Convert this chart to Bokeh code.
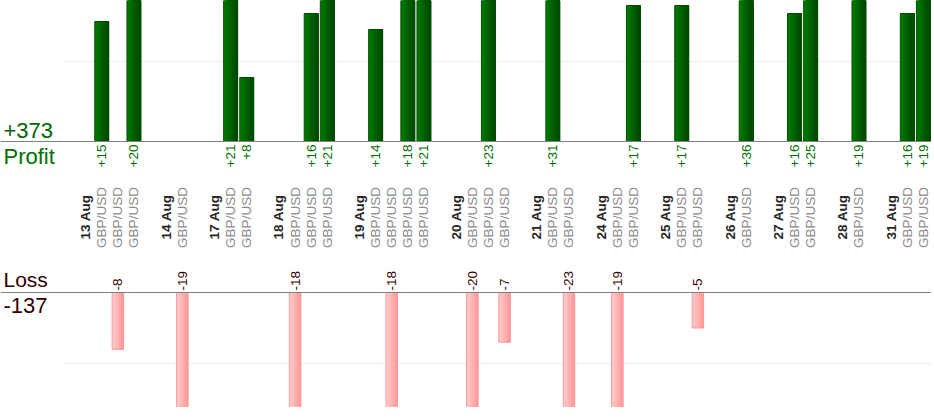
from bokeh.plotting import figure
from bokeh.models import ColumnDataSource, Range1d, Span
from bokeh.transform import dodge
from bokeh.core.properties import value
from bokeh.embed import file_html
from bokeh.resources import INLINE

# ---------------- data ----------------
days = ["13 Aug", "14 Aug", "17 Aug", "18 Aug", "19 Aug", "20 Aug", "21 Aug",
        "24 Aug", "25 Aug", "26 Aug", "27 Aug", "28 Aug", "31 Aug"]
trades_per_day = [3, 1, 2, 3, 4, 3, 2, 2, 2, 1, 2, 1, 2]
pips = [15, -8, 20,
        -19,
        21, 8,
        -18, 16, 21,
        14, -18, 18, 21,
        -20, 23, -7,
        31, -23,
        -19, 17,
        17, -5,
        36,
        16, 25,
        19,
        16, 19]
pair = "GBP/USD"

# ---------------- slot positions ----------------
day_x, trade_x = [], []
pos = 0  # leading empty slot
for n in trades_per_day:
    pos += 1
    day_x.append(pos + 0.5)
    for _ in range(n):
        pos += 1
        trade_x.append(pos + 0.5)
    pos += 1  # spacer slot
n_slots = pos

prof = [(x, v) for x, v in zip(trade_x, pips) if v > 0]
loss = [(x, v) for x, v in zip(trade_x, pips) if v < 0]
total_profit = sum(v for _, v in prof)
total_loss = sum(v for _, v in loss)

src_p = ColumnDataSource(dict(x=[a for a, _ in prof], top=[b for _, b in prof],
                              label=["+%d" % b for _, b in prof]))
src_l = ColumnDataSource(dict(x=[a for a, _ in loss], top=[b for _, b in loss],
                              label=["%d" % b for _, b in loss]))

# ---------------- figure ----------------
W, H = 931, 407
x0 = -3.785
p = figure(width=W, height=H, output_backend="svg", toolbar_location=None,
           x_range=Range1d(x0, n_slots), y_range=Range1d(-33.25, 17.625),
           x_axis_type=None, y_axis_type=None)
p.extra_y_ranges = {"loss": Range1d(-16.2, 41.13)}
p.min_border = 0
p.min_border_left = p.min_border_right = p.min_border_top = p.min_border_bottom = 0
p.outline_line_color = None
p.background_fill_color = "white"

# light grid lines
p.segment(x0=[0.12], y0=[10], x1=[n_slots], y1=[10], line_color="#ebebeb", line_width=1)
p.segment(x0=[0.12], y0=[-10], x1=[n_slots], y1=[-10], line_color="#ebebeb", line_width=1,
          y_range_name="loss")


def hexmix(c0, c1, t):
    a = [int(c0[i:i + 2], 16) for i in (1, 3, 5)]
    b = [int(c1[i:i + 2], 16) for i in (1, 3, 5)]
    return "#%02x%02x%02x" % tuple(round(a[i] + (b[i] - a[i]) * t) for i in range(3))


def gradient_bars(src, width, c0, c1, border, rng=None, n=10):
    kw = {} if rng is None else {"y_range_name": rng}
    for k in range(n):
        left = -width / 2 + width * k / n
        p.quad(left=dodge("x", left), right=dodge("x", width / 2), top="top", bottom=0,
               source=src, fill_color=hexmix(c0, c1, k / (n - 1)), line_color=None, **kw)
    p.vbar(x="x", width=width, top="top", bottom=0, source=src,
           fill_color=None, line_color=border, line_width=1, **kw)


gradient_bars(src_p, 0.87, "#007a00", "#004600", "#005000")
gradient_bars(src_l, 0.71, "#ffcccc", "#ff9999", "#ff9797", rng="loss")

# baselines
p.add_layout(Span(location=0, dimension="width", line_color="#808080", line_width=1))
p.add_layout(Span(location=0, dimension="width", line_color="#808080", line_width=1,
                  y_range_name="loss"))

font = value("Liberation Sans")

# value labels
p.text(x="x", y=-0.375, text="label", source=src_p, angle=90, angle_units="deg",
       text_align="right", text_baseline="middle", text_font=font,
       text_font_size="13.5px", text_color="#007000")
p.text(x="x", y=0.28, text="label", source=src_l, angle=90, angle_units="deg",
       text_align="left", text_baseline="middle", text_font=font,
       text_font_size="13.5px", text_color="#330000", y_range_name="loss")

# category labels
p.text(x=trade_x, y=[-9.5] * len(trade_x), text=[pair] * len(trade_x),
       angle=90, angle_units="deg", text_align="center", text_baseline="middle",
       text_font=font, text_font_size="13.5px", text_color="#8c8c8c")
p.text(x=day_x, y=[-9.45] * len(day_x), text=days,
       angle=90, angle_units="deg", text_align="center", text_baseline="middle",
       text_font=font, text_font_size="13.5px", text_font_style="bold",
       text_color="#262626")

# totals
xt = x0 + 3 / 16.115
p.text(x=[xt], y=[1.35], text=["+%d" % total_profit], text_align="left",
       text_baseline="alphabetic", text_font=font, text_font_size="22px",
       text_color="#006400")
p.text(x=[xt], y=[-1.85], text=["Profit"], text_align="left",
       text_baseline="alphabetic", text_font=font, text_font_size="22px",
       text_color="#007000")
p.text(x=[xt], y=[1.9], text=["Loss"], text_align="left",
       text_baseline="alphabetic", text_font=font, text_font_size="21px",
       text_color="#330000", y_range_name="loss")
p.text(x=[xt], y=[-1.85], text=["%d" % total_loss], text_align="left",
       text_baseline="alphabetic", text_font=font, text_font_size="22px",
       text_color="#330000", y_range_name="loss")

open("out.html", "w").write(file_html(p, INLINE))
